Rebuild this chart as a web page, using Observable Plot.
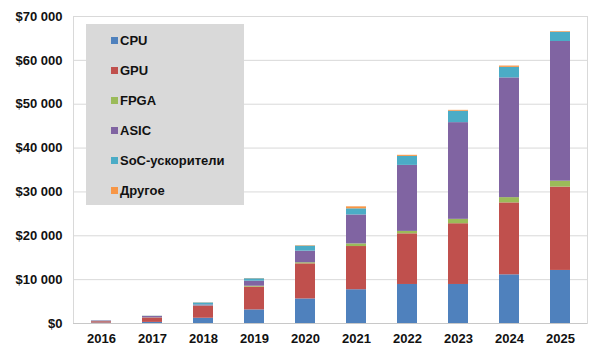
<!DOCTYPE html>
<html>
<head>
<meta charset="utf-8">
<script src="https://cdn.jsdelivr.net/npm/d3@7"></script>
<script src="https://cdn.jsdelivr.net/npm/@observablehq/plot@0.6"></script>
<style>
  html, body { margin: 0; padding: 0; background: #fff; }
  #wrap { position: relative; width: 600px; height: 358px; font-family: "Liberation Sans", Arial, sans-serif; }
  #legend { position: absolute; left: 86px; top: 24px; width: 158px; height: 181px; background: #d9d9d9; }
  .item { position: absolute; left: 25px; height: 16px; display: flex; align-items: center; font-weight: bold; font-size: 13px; color: #111; }
  .sw { width: 7px; height: 7px; margin-right: 2px; }
</style>
</head>
<body>
<div id="wrap"></div>
<script>
const years = ["2016","2017","2018","2019","2020","2021","2022","2023","2024","2025"];
const seriesNames = ["CPU","GPU","FPGA","ASIC","SoC-ускорители","Другое"];
const seriesColors = ["#4f81bd","#c0504d","#9bbb59","#8064a2","#4bacc6","#f79646"];
const cpu   = [100, 250, 1200, 3100, 5600, 7700, 8900, 8900, 11100, 12100];
const gpu   = [300, 1000, 2700, 5200, 8000, 9850, 11550, 13850, 16400, 19000];
const fpga  = [20, 40, 80, 200, 250, 600, 550, 1000, 1200, 1350];
const asic  = [150, 300, 250, 1150, 2650, 6600, 15050, 22050, 27300, 31850];
const soc   = [30, 60, 450, 550, 1150, 1400, 2050, 2600, 2400, 2100];
const other = [10, 20, 40, 50, 100, 450, 250, 200, 300, 150];
const yTicks = [0, 10000, 20000, 30000, 40000, 50000, 60000, 70000];

const seriesValues = [cpu, gpu, fpga, asic, soc, other];
const data = [];
years.forEach((y, i) => {
  seriesNames.forEach((s, j) => data.push({year: y, series: s, value: seriesValues[j][i]}));
});

const fmt = d => "$" + d3.format(",")(d).replace(/,/g, " ");

const chart = Plot.plot({
  width: 600,
  height: 358,
  marginLeft: 73,
  marginRight: 13,
  marginTop: 16,
  marginBottom: 35,
  style: {fontFamily: "'Liberation Sans', Arial, sans-serif", fontSize: "13px", fontWeight: "bold", color: "#111", background: "#fff"},
  x: {domain: years, paddingInner: 0.61, paddingOuter: 0.305, label: null},
  y: {domain: [0, 70000], label: null},
  color: {domain: seriesNames, range: seriesColors},
  marks: [
    Plot.gridY(yTicks, {stroke: "#d9d9d9", strokeOpacity: 1}),
    Plot.frame({stroke: "#d9d9d9"}),
    Plot.barY(data, {x: "year", y: "value", fill: "series", order: seriesNames}),
    Plot.ruleY([0], {stroke: "#c8c8c8"}),
    Plot.axisY(yTicks, {tickSize: 0, tickPadding: 11, tickFormat: fmt, label: null, fontWeight: "bold", fontSize: 13}),
    Plot.axisX({tickSize: 0, tickPadding: 10, label: null, fontWeight: "bold", fontSize: 13})
  ]
});

const wrap = document.getElementById("wrap");
wrap.appendChild(chart);

const legend = document.createElement("div");
legend.id = "legend";
seriesNames.forEach((s, j) => {
  const it = document.createElement("div");
  it.className = "item";
  it.style.top = (8 + j * 30) + "px";
  const sw = document.createElement("span");
  sw.className = "sw";
  sw.style.background = seriesColors[j];
  it.appendChild(sw);
  it.appendChild(document.createTextNode(s));
  legend.appendChild(it);
});
wrap.appendChild(legend);
</script>
</body>
</html>
